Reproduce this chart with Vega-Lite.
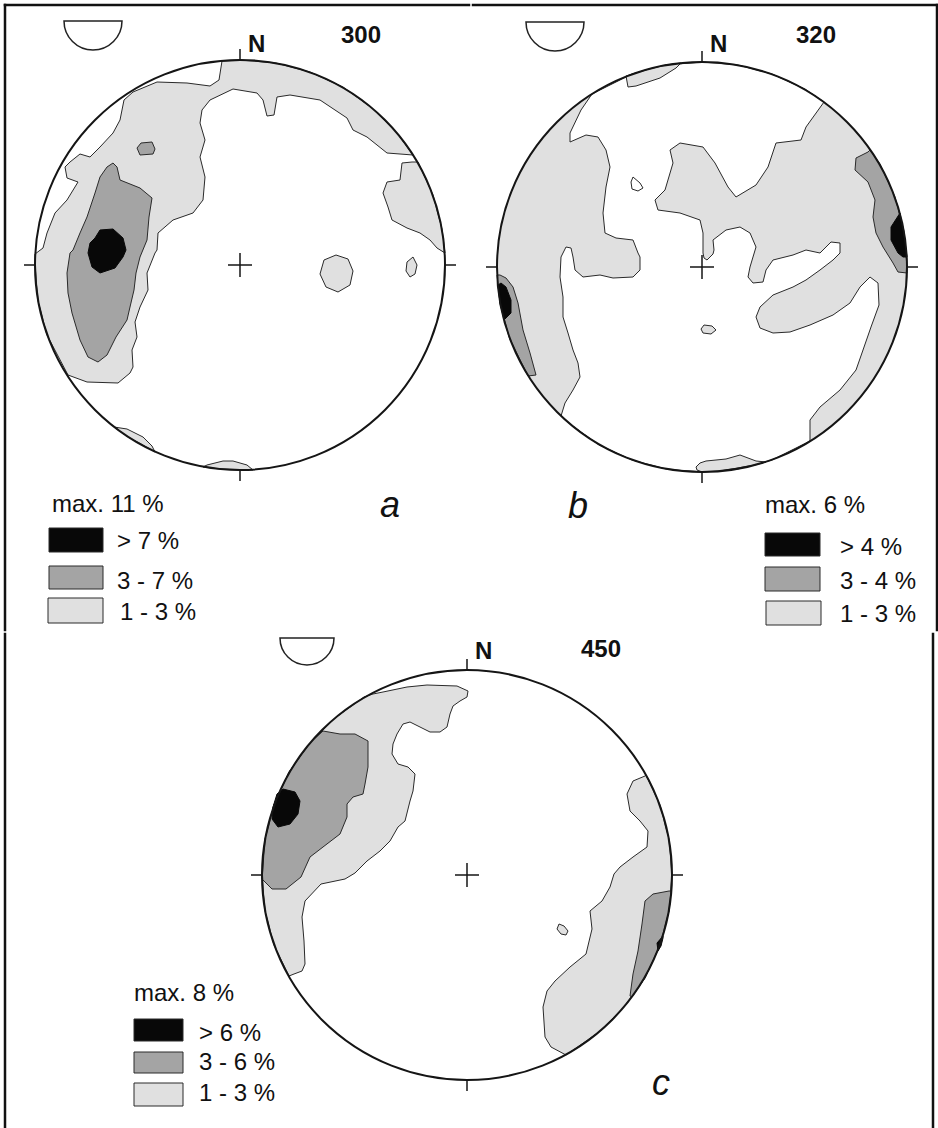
{
"$schema": "https://vega.github.io/schema/vega-lite/v6.json",
"padding": 0,
"background": "white",
"spacing": 0,
"config": {"view": {"stroke": null}, "font": "Liberation Sans", "text": {"font": "Liberation Sans"}},
"datasets": {
"poly": [
{"p":"a","g":"a1","k":"L","i":1,"x":-18,"y":204},{"p":"a","g":"a1","k":"L","i":2,"x":0,"y":205},{"p":"a","g":"a1","k":"L","i":3,"x":36,"y":202},{"p":"a","g":"a1","k":"L","i":4,"x":70,"y":193},{"p":"a","g":"a1","k":"L","i":5,"x":103,"y":178},{"p":"a","g":"a1","k":"L","i":6,"x":132,"y":157},{"p":"a","g":"a1","k":"L","i":7,"x":157,"y":132},{"p":"a","g":"a1","k":"L","i":8,"x":173,"y":110},{"p":"a","g":"a1","k":"L","i":9,"x":147,"y":112},{"p":"a","g":"a1","k":"L","i":10,"x":127,"y":128},{"p":"a","g":"a1","k":"L","i":11,"x":113,"y":135},{"p":"a","g":"a1","k":"L","i":12,"x":107,"y":147},{"p":"a","g":"a1","k":"L","i":13,"x":80,"y":165},{"p":"a","g":"a1","k":"L","i":14,"x":50,"y":170},{"p":"a","g":"a1","k":"L","i":15,"x":37,"y":168},{"p":"a","g":"a1","k":"L","i":16,"x":34,"y":150},{"p":"a","g":"a1","k":"L","i":17,"x":27,"y":149},{"p":"a","g":"a1","k":"L","i":18,"x":23,"y":165},{"p":"a","g":"a1","k":"L","i":19,"x":17,"y":172},{"p":"a","g":"a1","k":"L","i":20,"x":-7,"y":176},{"p":"a","g":"a1","k":"L","i":21,"x":-30,"y":165},{"p":"a","g":"a1","k":"L","i":22,"x":-38,"y":155},{"p":"a","g":"a1","k":"L","i":23,"x":-40,"y":142},{"p":"a","g":"a1","k":"L","i":24,"x":-35,"y":125},{"p":"a","g":"a1","k":"L","i":25,"x":-40,"y":108},{"p":"a","g":"a1","k":"L","i":26,"x":-35,"y":88},{"p":"a","g":"a1","k":"L","i":27,"x":-37,"y":65},{"p":"a","g":"a1","k":"L","i":28,"x":-47,"y":52},{"p":"a","g":"a1","k":"L","i":29,"x":-67,"y":45},{"p":"a","g":"a1","k":"L","i":30,"x":-82,"y":32},{"p":"a","g":"a1","k":"L","i":31,"x":-83,"y":15},{"p":"a","g":"a1","k":"L","i":32,"x":-85,"y":12},{"p":"a","g":"a1","k":"L","i":33,"x":-93,"y":-8},{"p":"a","g":"a1","k":"L","i":34,"x":-92,"y":-25},{"p":"a","g":"a1","k":"L","i":35,"x":-100,"y":-42},{"p":"a","g":"a1","k":"L","i":36,"x":-105,"y":-57},{"p":"a","g":"a1","k":"L","i":37,"x":-103,"y":-72},{"p":"a","g":"a1","k":"L","i":38,"x":-108,"y":-85},{"p":"a","g":"a1","k":"L","i":39,"x":-107,"y":-102},{"p":"a","g":"a1","k":"L","i":40,"x":-110,"y":-108},{"p":"a","g":"a1","k":"L","i":41,"x":-122,"y":-118},{"p":"a","g":"a1","k":"L","i":42,"x":-153,"y":-117},{"p":"a","g":"a1","k":"L","i":43,"x":-172,"y":-110},{"p":"a","g":"a1","k":"L","i":44,"x":-193,"y":-70},{"p":"a","g":"a1","k":"L","i":45,"x":-202,"y":-36},{"p":"a","g":"a1","k":"L","i":46,"x":-205,"y":0},{"p":"a","g":"a1","k":"L","i":47,"x":-205,"y":11},{"p":"a","g":"a1","k":"L","i":48,"x":-197,"y":17},{"p":"a","g":"a1","k":"L","i":49,"x":-193,"y":32},{"p":"a","g":"a1","k":"L","i":50,"x":-185,"y":52},{"p":"a","g":"a1","k":"L","i":51,"x":-173,"y":65},{"p":"a","g":"a1","k":"L","i":52,"x":-162,"y":83},{"p":"a","g":"a1","k":"L","i":53,"x":-173,"y":87},{"p":"a","g":"a1","k":"L","i":54,"x":-175,"y":98},{"p":"a","g":"a1","k":"L","i":55,"x":-170,"y":103},{"p":"a","g":"a1","k":"L","i":56,"x":-160,"y":111},{"p":"a","g":"a1","k":"L","i":57,"x":-150,"y":108},{"p":"a","g":"a1","k":"L","i":58,"x":-140,"y":118},{"p":"a","g":"a1","k":"L","i":59,"x":-127,"y":132},{"p":"a","g":"a1","k":"L","i":60,"x":-120,"y":145},{"p":"a","g":"a1","k":"L","i":61,"x":-116,"y":165},{"p":"a","g":"a1","k":"L","i":62,"x":-107,"y":173},{"p":"a","g":"a1","k":"L","i":63,"x":-83,"y":183},{"p":"a","g":"a1","k":"L","i":64,"x":-53,"y":182},{"p":"a","g":"a1","k":"L","i":65,"x":-30,"y":179},{"p":"a","g":"a1","k":"L","i":66,"x":-21,"y":185},
{"p":"a","g":"a5","k":"L","i":1,"x":96,"y":10},{"p":"a","g":"a5","k":"L","i":2,"x":108,"y":6},{"p":"a","g":"a5","k":"L","i":3,"x":113,"y":-6},{"p":"a","g":"a5","k":"L","i":4,"x":110,"y":-20},{"p":"a","g":"a5","k":"L","i":5,"x":98,"y":-27},{"p":"a","g":"a5","k":"L","i":6,"x":86,"y":-22},{"p":"a","g":"a5","k":"L","i":7,"x":80,"y":-9},{"p":"a","g":"a5","k":"L","i":8,"x":84,"y":5},
{"p":"a","g":"a6","k":"L","i":1,"x":173,"y":8},{"p":"a","g":"a6","k":"L","i":2,"x":177,"y":0},{"p":"a","g":"a6","k":"L","i":3,"x":175,"y":-9},{"p":"a","g":"a6","k":"L","i":4,"x":170,"y":-12},{"p":"a","g":"a6","k":"L","i":5,"x":166,"y":-6},{"p":"a","g":"a6","k":"L","i":6,"x":167,"y":3},
{"p":"a","g":"a7","k":"L","i":1,"x":172,"y":103},{"p":"a","g":"a7","k":"L","i":2,"x":162,"y":102},{"p":"a","g":"a7","k":"L","i":3,"x":160,"y":85},{"p":"a","g":"a7","k":"L","i":4,"x":147,"y":83},{"p":"a","g":"a7","k":"L","i":5,"x":143,"y":72},{"p":"a","g":"a7","k":"L","i":6,"x":148,"y":58},{"p":"a","g":"a7","k":"L","i":7,"x":152,"y":45},{"p":"a","g":"a7","k":"L","i":8,"x":167,"y":37},{"p":"a","g":"a7","k":"L","i":9,"x":180,"y":32},{"p":"a","g":"a7","k":"L","i":10,"x":190,"y":25},{"p":"a","g":"a7","k":"L","i":11,"x":197,"y":17},{"p":"a","g":"a7","k":"L","i":12,"x":205,"y":12},{"p":"a","g":"a7","k":"L","i":13,"x":202,"y":36},{"p":"a","g":"a7","k":"L","i":14,"x":193,"y":70},{"p":"a","g":"a7","k":"L","i":15,"x":178,"y":103},
{"p":"a","g":"a8","k":"L","i":1,"x":-126,"y":-162},{"p":"a","g":"a8","k":"L","i":2,"x":-113,"y":-164},{"p":"a","g":"a8","k":"L","i":3,"x":-97,"y":-172},{"p":"a","g":"a8","k":"L","i":4,"x":-88,"y":-181},{"p":"a","g":"a8","k":"L","i":5,"x":-85,"y":-187},{"p":"a","g":"a8","k":"L","i":6,"x":-99,"y":-179},{"p":"a","g":"a8","k":"L","i":7,"x":-112,"y":-172},
{"p":"a","g":"a9","k":"L","i":1,"x":-37,"y":-202},{"p":"a","g":"a9","k":"L","i":2,"x":-33,"y":-200},{"p":"a","g":"a9","k":"L","i":3,"x":-17,"y":-196},{"p":"a","g":"a9","k":"L","i":4,"x":-7,"y":-196},{"p":"a","g":"a9","k":"L","i":5,"x":7,"y":-200},{"p":"a","g":"a9","k":"L","i":6,"x":13,"y":-205},{"p":"a","g":"a9","k":"L","i":7,"x":0,"y":-205},{"p":"a","g":"a9","k":"L","i":8,"x":-20,"y":-204},
{"p":"a","g":"a2","k":"G","i":1,"x":-103,"y":117},{"p":"a","g":"a2","k":"G","i":2,"x":-99,"y":122},{"p":"a","g":"a2","k":"G","i":3,"x":-88,"y":123},{"p":"a","g":"a2","k":"G","i":4,"x":-85,"y":116},{"p":"a","g":"a2","k":"G","i":5,"x":-87,"y":111},{"p":"a","g":"a2","k":"G","i":6,"x":-100,"y":110},
{"p":"a","g":"a3","k":"G","i":1,"x":-127,"y":102},{"p":"a","g":"a3","k":"G","i":2,"x":-123,"y":98},{"p":"a","g":"a3","k":"G","i":3,"x":-120,"y":85},{"p":"a","g":"a3","k":"G","i":4,"x":-100,"y":77},{"p":"a","g":"a3","k":"G","i":5,"x":-88,"y":67},{"p":"a","g":"a3","k":"G","i":6,"x":-91,"y":48},{"p":"a","g":"a3","k":"G","i":7,"x":-93,"y":25},{"p":"a","g":"a3","k":"G","i":8,"x":-100,"y":8},{"p":"a","g":"a3","k":"G","i":9,"x":-104,"y":-8},{"p":"a","g":"a3","k":"G","i":10,"x":-106,"y":-25},{"p":"a","g":"a3","k":"G","i":11,"x":-110,"y":-42},{"p":"a","g":"a3","k":"G","i":12,"x":-113,"y":-55},{"p":"a","g":"a3","k":"G","i":13,"x":-124,"y":-72},{"p":"a","g":"a3","k":"G","i":14,"x":-133,"y":-90},{"p":"a","g":"a3","k":"G","i":15,"x":-142,"y":-97},{"p":"a","g":"a3","k":"G","i":16,"x":-152,"y":-92},{"p":"a","g":"a3","k":"G","i":17,"x":-160,"y":-75},{"p":"a","g":"a3","k":"G","i":18,"x":-168,"y":-48},{"p":"a","g":"a3","k":"G","i":19,"x":-172,"y":-28},{"p":"a","g":"a3","k":"G","i":20,"x":-173,"y":-8},{"p":"a","g":"a3","k":"G","i":21,"x":-170,"y":12},{"p":"a","g":"a3","k":"G","i":22,"x":-167,"y":15},{"p":"a","g":"a3","k":"G","i":23,"x":-160,"y":32},{"p":"a","g":"a3","k":"G","i":24,"x":-153,"y":48},{"p":"a","g":"a3","k":"G","i":25,"x":-145,"y":72},{"p":"a","g":"a3","k":"G","i":26,"x":-140,"y":88},{"p":"a","g":"a3","k":"G","i":27,"x":-133,"y":98},
{"p":"a","g":"a4","k":"K","i":1,"x":-140,"y":35},{"p":"a","g":"a4","k":"K","i":2,"x":-127,"y":36},{"p":"a","g":"a4","k":"K","i":3,"x":-117,"y":27},{"p":"a","g":"a4","k":"K","i":4,"x":-114,"y":15},{"p":"a","g":"a4","k":"K","i":5,"x":-117,"y":8},{"p":"a","g":"a4","k":"K","i":6,"x":-125,"y":-3},{"p":"a","g":"a4","k":"K","i":7,"x":-140,"y":-8},{"p":"a","g":"a4","k":"K","i":8,"x":-148,"y":-2},{"p":"a","g":"a4","k":"K","i":9,"x":-152,"y":12},{"p":"a","g":"a4","k":"K","i":10,"x":-150,"y":22},{"p":"a","g":"a4","k":"K","i":11,"x":-145,"y":27},

{"p":"b","g":"b1","k":"W","i":1,"x":-110,"y":173},{"p":"b","g":"b1","k":"W","i":2,"x":-70,"y":193},{"p":"b","g":"b1","k":"W","i":3,"x":-36,"y":202},{"p":"b","g":"b1","k":"W","i":4,"x":0,"y":205},{"p":"b","g":"b1","k":"W","i":5,"x":36,"y":202},{"p":"b","g":"b1","k":"W","i":6,"x":70,"y":193},{"p":"b","g":"b1","k":"W","i":7,"x":103,"y":178},{"p":"b","g":"b1","k":"W","i":8,"x":122,"y":165},{"p":"b","g":"b1","k":"W","i":9,"x":104,"y":140},{"p":"b","g":"b1","k":"W","i":10,"x":99,"y":127},{"p":"b","g":"b1","k":"W","i":11,"x":74,"y":124},{"p":"b","g":"b1","k":"W","i":12,"x":66,"y":100},{"p":"b","g":"b1","k":"W","i":13,"x":54,"y":82},{"p":"b","g":"b1","k":"W","i":14,"x":34,"y":70},{"p":"b","g":"b1","k":"W","i":15,"x":26,"y":80},{"p":"b","g":"b1","k":"W","i":16,"x":13,"y":104},{"p":"b","g":"b1","k":"W","i":17,"x":1,"y":120},{"p":"b","g":"b1","k":"W","i":18,"x":-22,"y":124},{"p":"b","g":"b1","k":"W","i":19,"x":-32,"y":117},{"p":"b","g":"b1","k":"W","i":20,"x":-29,"y":104},{"p":"b","g":"b1","k":"W","i":21,"x":-37,"y":77},{"p":"b","g":"b1","k":"W","i":22,"x":-47,"y":67},{"p":"b","g":"b1","k":"W","i":23,"x":-44,"y":57},{"p":"b","g":"b1","k":"W","i":24,"x":-22,"y":54},{"p":"b","g":"b1","k":"W","i":25,"x":-2,"y":47},{"p":"b","g":"b1","k":"W","i":26,"x":1,"y":34},{"p":"b","g":"b1","k":"W","i":27,"x":1,"y":14},{"p":"b","g":"b1","k":"W","i":28,"x":2,"y":9},{"p":"b","g":"b1","k":"W","i":29,"x":5,"y":7},{"p":"b","g":"b1","k":"W","i":30,"x":11,"y":13},{"p":"b","g":"b1","k":"W","i":31,"x":12,"y":17},{"p":"b","g":"b1","k":"W","i":32,"x":11,"y":27},{"p":"b","g":"b1","k":"W","i":33,"x":24,"y":37},{"p":"b","g":"b1","k":"W","i":34,"x":38,"y":40},{"p":"b","g":"b1","k":"W","i":35,"x":48,"y":34},{"p":"b","g":"b1","k":"W","i":36,"x":54,"y":20},{"p":"b","g":"b1","k":"W","i":37,"x":48,"y":0},{"p":"b","g":"b1","k":"W","i":38,"x":46,"y":-10},{"p":"b","g":"b1","k":"W","i":39,"x":51,"y":-16},{"p":"b","g":"b1","k":"W","i":40,"x":61,"y":-15},{"p":"b","g":"b1","k":"W","i":41,"x":64,"y":-3},{"p":"b","g":"b1","k":"W","i":42,"x":71,"y":7},{"p":"b","g":"b1","k":"W","i":43,"x":91,"y":12},{"p":"b","g":"b1","k":"W","i":44,"x":104,"y":17},{"p":"b","g":"b1","k":"W","i":45,"x":118,"y":14},{"p":"b","g":"b1","k":"W","i":46,"x":129,"y":25},{"p":"b","g":"b1","k":"W","i":47,"x":138,"y":24},{"p":"b","g":"b1","k":"W","i":48,"x":138,"y":14},{"p":"b","g":"b1","k":"W","i":49,"x":131,"y":7},{"p":"b","g":"b1","k":"W","i":50,"x":118,"y":-3},{"p":"b","g":"b1","k":"W","i":51,"x":104,"y":-13},{"p":"b","g":"b1","k":"W","i":52,"x":91,"y":-20},{"p":"b","g":"b1","k":"W","i":53,"x":71,"y":-28},{"p":"b","g":"b1","k":"W","i":54,"x":58,"y":-40},{"p":"b","g":"b1","k":"W","i":55,"x":54,"y":-50},{"p":"b","g":"b1","k":"W","i":56,"x":58,"y":-61},{"p":"b","g":"b1","k":"W","i":57,"x":71,"y":-66},{"p":"b","g":"b1","k":"W","i":58,"x":88,"y":-65},{"p":"b","g":"b1","k":"W","i":59,"x":108,"y":-58},{"p":"b","g":"b1","k":"W","i":60,"x":131,"y":-48},{"p":"b","g":"b1","k":"W","i":61,"x":148,"y":-36},{"p":"b","g":"b1","k":"W","i":62,"x":158,"y":-20},{"p":"b","g":"b1","k":"W","i":63,"x":168,"y":-10},{"p":"b","g":"b1","k":"W","i":64,"x":176,"y":-16},{"p":"b","g":"b1","k":"W","i":65,"x":177,"y":-38},{"p":"b","g":"b1","k":"W","i":66,"x":169,"y":-60},{"p":"b","g":"b1","k":"W","i":67,"x":161,"y":-83},{"p":"b","g":"b1","k":"W","i":68,"x":154,"y":-103},{"p":"b","g":"b1","k":"W","i":69,"x":138,"y":-123},{"p":"b","g":"b1","k":"W","i":70,"x":118,"y":-140},{"p":"b","g":"b1","k":"W","i":71,"x":108,"y":-153},{"p":"b","g":"b1","k":"W","i":72,"x":108,"y":-174},{"p":"b","g":"b1","k":"W","i":73,"x":70,"y":-193},{"p":"b","g":"b1","k":"W","i":74,"x":36,"y":-202},{"p":"b","g":"b1","k":"W","i":75,"x":0,"y":-205},{"p":"b","g":"b1","k":"W","i":76,"x":-36,"y":-202},{"p":"b","g":"b1","k":"W","i":77,"x":-70,"y":-193},{"p":"b","g":"b1","k":"W","i":78,"x":-103,"y":-178},{"p":"b","g":"b1","k":"W","i":79,"x":-132,"y":-157},{"p":"b","g":"b1","k":"W","i":80,"x":-141,"y":-149},{"p":"b","g":"b1","k":"W","i":81,"x":-137,"y":-136},{"p":"b","g":"b1","k":"W","i":82,"x":-129,"y":-123},{"p":"b","g":"b1","k":"W","i":83,"x":-122,"y":-110},{"p":"b","g":"b1","k":"W","i":84,"x":-124,"y":-96},{"p":"b","g":"b1","k":"W","i":85,"x":-129,"y":-83},{"p":"b","g":"b1","k":"W","i":86,"x":-134,"y":-66},{"p":"b","g":"b1","k":"W","i":87,"x":-139,"y":-50},{"p":"b","g":"b1","k":"W","i":88,"x":-139,"y":-30},{"p":"b","g":"b1","k":"W","i":89,"x":-142,"y":-10},{"p":"b","g":"b1","k":"W","i":90,"x":-141,"y":10},{"p":"b","g":"b1","k":"W","i":91,"x":-136,"y":20},{"p":"b","g":"b1","k":"W","i":92,"x":-131,"y":19},{"p":"b","g":"b1","k":"W","i":93,"x":-129,"y":10},{"p":"b","g":"b1","k":"W","i":94,"x":-127,"y":-3},{"p":"b","g":"b1","k":"W","i":95,"x":-119,"y":-10},{"p":"b","g":"b1","k":"W","i":96,"x":-102,"y":-8},{"p":"b","g":"b1","k":"W","i":97,"x":-89,"y":-11},{"p":"b","g":"b1","k":"W","i":98,"x":-69,"y":-10},{"p":"b","g":"b1","k":"W","i":99,"x":-62,"y":-3},{"p":"b","g":"b1","k":"W","i":100,"x":-62,"y":10},{"p":"b","g":"b1","k":"W","i":101,"x":-64,"y":14},{"p":"b","g":"b1","k":"W","i":102,"x":-69,"y":27},{"p":"b","g":"b1","k":"W","i":103,"x":-86,"y":29},{"p":"b","g":"b1","k":"W","i":104,"x":-97,"y":34},{"p":"b","g":"b1","k":"W","i":105,"x":-99,"y":54},{"p":"b","g":"b1","k":"W","i":106,"x":-96,"y":80},{"p":"b","g":"b1","k":"W","i":107,"x":-92,"y":100},{"p":"b","g":"b1","k":"W","i":108,"x":-96,"y":117},{"p":"b","g":"b1","k":"W","i":109,"x":-104,"y":130},{"p":"b","g":"b1","k":"W","i":110,"x":-116,"y":132},{"p":"b","g":"b1","k":"W","i":111,"x":-132,"y":125},{"p":"b","g":"b1","k":"W","i":112,"x":-132,"y":134},{"p":"b","g":"b1","k":"W","i":113,"x":-121,"y":157},
{"p":"b","g":"b2","k":"W","i":1,"x":-69,"y":90},{"p":"b","g":"b2","k":"W","i":2,"x":-62,"y":84},{"p":"b","g":"b2","k":"W","i":3,"x":-59,"y":79},{"p":"b","g":"b2","k":"W","i":4,"x":-64,"y":76},{"p":"b","g":"b2","k":"W","i":5,"x":-70,"y":78},{"p":"b","g":"b2","k":"W","i":6,"x":-71,"y":85},
{"p":"b","g":"b3","k":"L","i":1,"x":-21,"y":204},{"p":"b","g":"b3","k":"L","i":2,"x":-26,"y":199},{"p":"b","g":"b3","k":"L","i":3,"x":-42,"y":189},{"p":"b","g":"b3","k":"L","i":4,"x":-66,"y":181},{"p":"b","g":"b3","k":"L","i":5,"x":-74,"y":180},{"p":"b","g":"b3","k":"L","i":6,"x":-76,"y":191},{"p":"b","g":"b3","k":"L","i":7,"x":-53,"y":198},{"p":"b","g":"b3","k":"L","i":8,"x":-36,"y":202},
{"p":"b","g":"b4","k":"L","i":1,"x":2,"y":-58},{"p":"b","g":"b4","k":"L","i":2,"x":10,"y":-59},{"p":"b","g":"b4","k":"L","i":3,"x":14,"y":-63},{"p":"b","g":"b4","k":"L","i":4,"x":9,"y":-67},{"p":"b","g":"b4","k":"L","i":5,"x":1,"y":-66},{"p":"b","g":"b4","k":"L","i":6,"x":-1,"y":-62},
{"p":"b","g":"b5","k":"L","i":1,"x":-6,"y":-200},{"p":"b","g":"b5","k":"L","i":2,"x":-2,"y":-196},{"p":"b","g":"b5","k":"L","i":3,"x":4,"y":-194},{"p":"b","g":"b5","k":"L","i":4,"x":24,"y":-192},{"p":"b","g":"b5","k":"L","i":5,"x":38,"y":-188},{"p":"b","g":"b5","k":"L","i":6,"x":46,"y":-191},{"p":"b","g":"b5","k":"L","i":7,"x":54,"y":-194},{"p":"b","g":"b5","k":"L","i":8,"x":64,"y":-195},{"p":"b","g":"b5","k":"L","i":9,"x":53,"y":-198},{"p":"b","g":"b5","k":"L","i":10,"x":18,"y":-204},{"p":"b","g":"b5","k":"L","i":11,"x":0,"y":-205},{"p":"b","g":"b5","k":"L","i":12,"x":-5,"y":-203},
{"p":"b","g":"b6","k":"G","i":1,"x":-202,"y":-8},{"p":"b","g":"b6","k":"G","i":2,"x":-196,"y":-11},{"p":"b","g":"b6","k":"G","i":3,"x":-189,"y":-20},{"p":"b","g":"b6","k":"G","i":4,"x":-184,"y":-36},{"p":"b","g":"b6","k":"G","i":5,"x":-179,"y":-63},{"p":"b","g":"b6","k":"G","i":6,"x":-172,"y":-86},{"p":"b","g":"b6","k":"G","i":7,"x":-166,"y":-108},{"p":"b","g":"b6","k":"G","i":8,"x":-174,"y":-109},{"p":"b","g":"b6","k":"G","i":9,"x":-193,"y":-70},{"p":"b","g":"b6","k":"G","i":10,"x":-202,"y":-36},{"p":"b","g":"b6","k":"G","i":11,"x":-205,"y":-8},
{"p":"b","g":"b8","k":"G","i":1,"x":166,"y":115},{"p":"b","g":"b8","k":"G","i":2,"x":154,"y":109},{"p":"b","g":"b8","k":"G","i":3,"x":153,"y":97},{"p":"b","g":"b8","k":"G","i":4,"x":166,"y":85},{"p":"b","g":"b8","k":"G","i":5,"x":173,"y":67},{"p":"b","g":"b8","k":"G","i":6,"x":171,"y":50},{"p":"b","g":"b8","k":"G","i":7,"x":174,"y":34},{"p":"b","g":"b8","k":"G","i":8,"x":181,"y":20},{"p":"b","g":"b8","k":"G","i":9,"x":191,"y":4},{"p":"b","g":"b8","k":"G","i":10,"x":196,"y":-5},{"p":"b","g":"b8","k":"G","i":11,"x":205,"y":-6},{"p":"b","g":"b8","k":"G","i":12,"x":205,"y":0},{"p":"b","g":"b8","k":"G","i":13,"x":202,"y":36},{"p":"b","g":"b8","k":"G","i":14,"x":193,"y":70},{"p":"b","g":"b8","k":"G","i":15,"x":178,"y":103},{"p":"b","g":"b8","k":"G","i":16,"x":168,"y":117},
{"p":"b","g":"b7","k":"K","i":1,"x":-201,"y":-16},{"p":"b","g":"b7","k":"K","i":2,"x":-196,"y":-20},{"p":"b","g":"b7","k":"K","i":3,"x":-191,"y":-33},{"p":"b","g":"b7","k":"K","i":4,"x":-191,"y":-46},{"p":"b","g":"b7","k":"K","i":5,"x":-198,"y":-53},{"p":"b","g":"b7","k":"K","i":6,"x":-202,"y":-36},{"p":"b","g":"b7","k":"K","i":7,"x":-204,"y":-18},
{"p":"b","g":"b9","k":"K","i":1,"x":198,"y":54},{"p":"b","g":"b9","k":"K","i":2,"x":189,"y":40},{"p":"b","g":"b9","k":"K","i":3,"x":189,"y":27},{"p":"b","g":"b9","k":"K","i":4,"x":196,"y":14},{"p":"b","g":"b9","k":"K","i":5,"x":201,"y":10},{"p":"b","g":"b9","k":"K","i":6,"x":205,"y":10},{"p":"b","g":"b9","k":"K","i":7,"x":203,"y":25},

{"p":"c","g":"c1","k":"L","i":1,"x":-94,"y":181},{"p":"c","g":"c1","k":"L","i":2,"x":-84,"y":183},{"p":"c","g":"c1","k":"L","i":3,"x":-60,"y":188},{"p":"c","g":"c1","k":"L","i":4,"x":-40,"y":190},{"p":"c","g":"c1","k":"L","i":5,"x":-10,"y":189},{"p":"c","g":"c1","k":"L","i":6,"x":1,"y":184},{"p":"c","g":"c1","k":"L","i":7,"x":0,"y":178},{"p":"c","g":"c1","k":"L","i":8,"x":-7,"y":174},{"p":"c","g":"c1","k":"L","i":9,"x":-14,"y":169},{"p":"c","g":"c1","k":"L","i":10,"x":-17,"y":161},{"p":"c","g":"c1","k":"L","i":11,"x":-20,"y":148},{"p":"c","g":"c1","k":"L","i":12,"x":-27,"y":143},{"p":"c","g":"c1","k":"L","i":13,"x":-37,"y":143},{"p":"c","g":"c1","k":"L","i":14,"x":-47,"y":148},{"p":"c","g":"c1","k":"L","i":15,"x":-57,"y":153},{"p":"c","g":"c1","k":"L","i":16,"x":-64,"y":151},{"p":"c","g":"c1","k":"L","i":17,"x":-70,"y":141},{"p":"c","g":"c1","k":"L","i":18,"x":-74,"y":131},{"p":"c","g":"c1","k":"L","i":19,"x":-75,"y":121},{"p":"c","g":"c1","k":"L","i":20,"x":-69,"y":111},{"p":"c","g":"c1","k":"L","i":21,"x":-59,"y":108},{"p":"c","g":"c1","k":"L","i":22,"x":-52,"y":101},{"p":"c","g":"c1","k":"L","i":23,"x":-54,"y":84},{"p":"c","g":"c1","k":"L","i":24,"x":-57,"y":74},{"p":"c","g":"c1","k":"L","i":25,"x":-62,"y":54},{"p":"c","g":"c1","k":"L","i":26,"x":-69,"y":48},{"p":"c","g":"c1","k":"L","i":27,"x":-77,"y":34},{"p":"c","g":"c1","k":"L","i":28,"x":-87,"y":24},{"p":"c","g":"c1","k":"L","i":29,"x":-100,"y":14},{"p":"c","g":"c1","k":"L","i":30,"x":-112,"y":2},{"p":"c","g":"c1","k":"L","i":31,"x":-122,"y":-4},{"p":"c","g":"c1","k":"L","i":32,"x":-146,"y":-9},{"p":"c","g":"c1","k":"L","i":33,"x":-162,"y":-26},{"p":"c","g":"c1","k":"L","i":34,"x":-165,"y":-42},{"p":"c","g":"c1","k":"L","i":35,"x":-163,"y":-66},{"p":"c","g":"c1","k":"L","i":36,"x":-162,"y":-89},{"p":"c","g":"c1","k":"L","i":37,"x":-165,"y":-96},{"p":"c","g":"c1","k":"L","i":38,"x":-173,"y":-99},{"p":"c","g":"c1","k":"L","i":39,"x":-178,"y":-101},{"p":"c","g":"c1","k":"L","i":40,"x":-193,"y":-70},{"p":"c","g":"c1","k":"L","i":41,"x":-202,"y":-36},{"p":"c","g":"c1","k":"L","i":42,"x":-205,"y":0},{"p":"c","g":"c1","k":"L","i":43,"x":-202,"y":36},{"p":"c","g":"c1","k":"L","i":44,"x":-193,"y":70},{"p":"c","g":"c1","k":"L","i":45,"x":-178,"y":103},{"p":"c","g":"c1","k":"L","i":46,"x":-157,"y":132},{"p":"c","g":"c1","k":"L","i":47,"x":-132,"y":157},{"p":"c","g":"c1","k":"L","i":48,"x":-103,"y":178},
{"p":"c","g":"c4","k":"L","i":1,"x":178,"y":99},{"p":"c","g":"c4","k":"L","i":2,"x":166,"y":94},{"p":"c","g":"c4","k":"L","i":3,"x":160,"y":81},{"p":"c","g":"c4","k":"L","i":4,"x":163,"y":64},{"p":"c","g":"c4","k":"L","i":5,"x":173,"y":54},{"p":"c","g":"c4","k":"L","i":6,"x":181,"y":44},{"p":"c","g":"c4","k":"L","i":7,"x":180,"y":28},{"p":"c","g":"c4","k":"L","i":8,"x":166,"y":18},{"p":"c","g":"c4","k":"L","i":9,"x":153,"y":8},{"p":"c","g":"c4","k":"L","i":10,"x":147,"y":1},{"p":"c","g":"c4","k":"L","i":11,"x":143,"y":-12},{"p":"c","g":"c4","k":"L","i":12,"x":135,"y":-26},{"p":"c","g":"c4","k":"L","i":13,"x":123,"y":-36},{"p":"c","g":"c4","k":"L","i":14,"x":125,"y":-54},{"p":"c","g":"c4","k":"L","i":15,"x":119,"y":-79},{"p":"c","g":"c4","k":"L","i":16,"x":103,"y":-92},{"p":"c","g":"c4","k":"L","i":17,"x":88,"y":-106},{"p":"c","g":"c4","k":"L","i":18,"x":80,"y":-116},{"p":"c","g":"c4","k":"L","i":19,"x":76,"y":-132},{"p":"c","g":"c4","k":"L","i":20,"x":78,"y":-162},{"p":"c","g":"c4","k":"L","i":21,"x":84,"y":-172},{"p":"c","g":"c4","k":"L","i":22,"x":99,"y":-180},{"p":"c","g":"c4","k":"L","i":23,"x":132,"y":-157},{"p":"c","g":"c4","k":"L","i":24,"x":157,"y":-132},{"p":"c","g":"c4","k":"L","i":25,"x":178,"y":-103},{"p":"c","g":"c4","k":"L","i":26,"x":193,"y":-70},{"p":"c","g":"c4","k":"L","i":27,"x":202,"y":-36},{"p":"c","g":"c4","k":"L","i":28,"x":205,"y":0},{"p":"c","g":"c4","k":"L","i":29,"x":202,"y":36},{"p":"c","g":"c4","k":"L","i":30,"x":193,"y":70},{"p":"c","g":"c4","k":"L","i":31,"x":179,"y":100},
{"p":"c","g":"c7","k":"L","i":1,"x":92,"y":-49},{"p":"c","g":"c7","k":"L","i":2,"x":97,"y":-51},{"p":"c","g":"c7","k":"L","i":3,"x":101,"y":-56},{"p":"c","g":"c7","k":"L","i":4,"x":99,"y":-60},{"p":"c","g":"c7","k":"L","i":5,"x":94,"y":-59},{"p":"c","g":"c7","k":"L","i":6,"x":90,"y":-54},
{"p":"c","g":"c2","k":"G","i":1,"x":-144,"y":144},{"p":"c","g":"c2","k":"G","i":2,"x":-127,"y":141},{"p":"c","g":"c2","k":"G","i":3,"x":-112,"y":141},{"p":"c","g":"c2","k":"G","i":4,"x":-99,"y":134},{"p":"c","g":"c2","k":"G","i":5,"x":-99,"y":108},{"p":"c","g":"c2","k":"G","i":6,"x":-102,"y":91},{"p":"c","g":"c2","k":"G","i":7,"x":-104,"y":81},{"p":"c","g":"c2","k":"G","i":8,"x":-114,"y":78},{"p":"c","g":"c2","k":"G","i":9,"x":-120,"y":71},{"p":"c","g":"c2","k":"G","i":10,"x":-120,"y":58},{"p":"c","g":"c2","k":"G","i":11,"x":-127,"y":41},{"p":"c","g":"c2","k":"G","i":12,"x":-144,"y":28},{"p":"c","g":"c2","k":"G","i":13,"x":-157,"y":18},{"p":"c","g":"c2","k":"G","i":14,"x":-166,"y":-2},{"p":"c","g":"c2","k":"G","i":15,"x":-181,"y":-14},{"p":"c","g":"c2","k":"G","i":16,"x":-195,"y":-14},{"p":"c","g":"c2","k":"G","i":17,"x":-205,"y":-4},{"p":"c","g":"c2","k":"G","i":18,"x":-202,"y":36},{"p":"c","g":"c2","k":"G","i":19,"x":-193,"y":70},{"p":"c","g":"c2","k":"G","i":20,"x":-178,"y":103},{"p":"c","g":"c2","k":"G","i":21,"x":-157,"y":132},
{"p":"c","g":"c5","k":"G","i":1,"x":202,"y":-16},{"p":"c","g":"c5","k":"G","i":2,"x":186,"y":-19},{"p":"c","g":"c5","k":"G","i":3,"x":178,"y":-26},{"p":"c","g":"c5","k":"G","i":4,"x":175,"y":-49},{"p":"c","g":"c5","k":"G","i":5,"x":171,"y":-76},{"p":"c","g":"c5","k":"G","i":6,"x":166,"y":-99},{"p":"c","g":"c5","k":"G","i":7,"x":163,"y":-121},{"p":"c","g":"c5","k":"G","i":8,"x":165,"y":-122},{"p":"c","g":"c5","k":"G","i":9,"x":178,"y":-103},{"p":"c","g":"c5","k":"G","i":10,"x":193,"y":-70},{"p":"c","g":"c5","k":"G","i":11,"x":202,"y":-36},{"p":"c","g":"c5","k":"G","i":12,"x":204,"y":-16},
{"p":"c","g":"c3","k":"K","i":1,"x":-184,"y":86},{"p":"c","g":"c3","k":"K","i":2,"x":-172,"y":83},{"p":"c","g":"c3","k":"K","i":3,"x":-167,"y":74},{"p":"c","g":"c3","k":"K","i":4,"x":-169,"y":61},{"p":"c","g":"c3","k":"K","i":5,"x":-177,"y":51},{"p":"c","g":"c3","k":"K","i":6,"x":-189,"y":48},{"p":"c","g":"c3","k":"K","i":7,"x":-195,"y":56},{"p":"c","g":"c3","k":"K","i":8,"x":-194,"y":68},{"p":"c","g":"c3","k":"K","i":9,"x":-190,"y":81},
{"p":"c","g":"c6","k":"K","i":1,"x":196,"y":-61},{"p":"c","g":"c6","k":"K","i":2,"x":190,"y":-68},{"p":"c","g":"c6","k":"K","i":3,"x":191,"y":-76},{"p":"c","g":"c6","k":"K","i":4,"x":194,"y":-71},{"p":"c","g":"c6","k":"K","i":5,"x":196,"y":-63}
]
},
"vconcat": [
{"hconcat": [
{
"width": 469, "height": 630,
"data": {"values": [{}]},
"encoding": {
"x": {"type": "quantitative", "scale": {"domain": [-240, 229], "nice": false, "zero": false}, "axis": null},
"y": {"type": "quantitative", "scale": {"domain": [-365, 265], "nice": false, "zero": false}, "axis": null}
},
"layer": [
{"data": {"name": "poly"}, "transform": [{"filter": "datum.p=='a' && datum.k=='L'"}], "mark": {"type": "line", "interpolate": "linear-closed", "fill": "#e0e0e0", "stroke": "#2a2a2a", "strokeWidth": 1}, "encoding": {"x": {"field": "x"}, "y": {"field": "y"}, "detail": {"field": "g"}, "order": {"field": "i", "type": "quantitative"}}},
{"data": {"name": "poly"}, "transform": [{"filter": "datum.p=='a' && datum.k=='G'"}], "mark": {"type": "line", "interpolate": "linear-closed", "fill": "#a4a4a4", "stroke": "#2a2a2a", "strokeWidth": 1}, "encoding": {"x": {"field": "x"}, "y": {"field": "y"}, "detail": {"field": "g"}, "order": {"field": "i", "type": "quantitative"}}},
{"data": {"name": "poly"}, "transform": [{"filter": "datum.p=='a' && datum.k=='K'"}], "mark": {"type": "line", "interpolate": "linear-closed", "fill": "#080808", "stroke": "#080808", "strokeWidth": 1}, "encoding": {"x": {"field": "x"}, "y": {"field": "y"}, "detail": {"field": "g"}, "order": {"field": "i", "type": "quantitative"}}},
{"mark": {"type": "point", "shape": "circle", "size": 168100, "filled": false, "stroke": "#151515", "strokeWidth": 2, "opacity": 1}, "encoding": {"x": {"datum": 0}, "y": {"datum": 0}}},
{"mark": {"type": "rule", "stroke": "#151515", "strokeWidth": 1.5}, "encoding": {"x": {"datum": 0}, "y": {"datum": 205}, "y2": {"datum": 216}}},
{"mark": {"type": "rule", "stroke": "#151515", "strokeWidth": 1.5}, "encoding": {"x": {"datum": 0}, "y": {"datum": -205}, "y2": {"datum": -216}}},
{"mark": {"type": "rule", "stroke": "#151515", "strokeWidth": 1.5}, "encoding": {"x": {"datum": 205}, "x2": {"datum": 216}, "y": {"datum": 0}}},
{"mark": {"type": "rule", "stroke": "#151515", "strokeWidth": 1.5}, "encoding": {"x": {"datum": -205}, "x2": {"datum": -216}, "y": {"datum": 0}}},
{"mark": {"type": "rule", "stroke": "#151515", "strokeWidth": 1.5}, "encoding": {"x": {"datum": -12}, "x2": {"datum": 12}, "y": {"datum": 0}}},
{"mark": {"type": "rule", "stroke": "#151515", "strokeWidth": 1.5}, "encoding": {"x": {"datum": 0}, "y": {"datum": -12}, "y2": {"datum": 12}}},
{"mark": {"type": "point", "shape": "M-1,0L1,0A1,1 0 0 1 -1,0Z", "size": 3364, "filled": false, "stroke": "#222", "strokeWidth": 1.5, "opacity": 1}, "encoding": {"x": {"datum": -147}, "y": {"datum": 244}}},
{"mark": {"type": "text", "align": "left", "baseline": "alphabetic", "fontSize": 24, "fontWeight": "bold", "color": "#111"}, "encoding": {"x": {"datum": 8}, "y": {"datum": 213}, "text": {"value": "N"}}},
{"mark": {"type": "text", "align": "center", "baseline": "alphabetic", "fontSize": 24, "fontWeight": "bold", "color": "#111"}, "encoding": {"x": {"datum": 121}, "y": {"datum": 222}, "text": {"value": "300"}}},
{"mark": {"type": "text", "align": "left", "baseline": "alphabetic", "fontSize": 24, "color": "#111"}, "encoding": {"x": {"datum": -188}, "y": {"datum": -247}, "text": {"value": "max. 11 %"}}},
{"mark": {"type": "rect", "fill": "#080808", "stroke": "#2a2a2a", "strokeWidth": 1}, "encoding": {"x": {"datum": -191}, "x2": {"datum": -137}, "y": {"datum": -263}, "y2": {"datum": -287}}},
{"mark": {"type": "rect", "fill": "#a4a4a4", "stroke": "#2a2a2a", "strokeWidth": 1}, "encoding": {"x": {"datum": -191}, "x2": {"datum": -137}, "y": {"datum": -301}, "y2": {"datum": -324}}},
{"mark": {"type": "rect", "fill": "#e0e0e0", "stroke": "#2a2a2a", "strokeWidth": 1}, "encoding": {"x": {"datum": -192}, "x2": {"datum": -137}, "y": {"datum": -333}, "y2": {"datum": -358}}},
{"mark": {"type": "text", "align": "left", "baseline": "middle", "fontSize": 24, "color": "#111"}, "encoding": {"x": {"datum": -123}, "y": {"datum": -277}, "text": {"value": "> 7 %"}}},
{"mark": {"type": "text", "align": "left", "baseline": "middle", "fontSize": 24, "color": "#111"}, "encoding": {"x": {"datum": -123}, "y": {"datum": -317}, "text": {"value": "3 - 7 %"}}},
{"mark": {"type": "text", "align": "left", "baseline": "middle", "fontSize": 24, "color": "#111"}, "encoding": {"x": {"datum": -120}, "y": {"datum": -348}, "text": {"value": "1 - 3 %"}}},
{"mark": {"type": "text", "align": "left", "baseline": "alphabetic", "fontSize": 36, "fontStyle": "italic", "color": "#111"}, "encoding": {"x": {"datum": 140}, "y": {"datum": -252}, "text": {"value": "a"}}},
{"mark": {"type": "rule", "stroke": "#111", "strokeWidth": 2.5, "strokeCap": "square"}, "encoding": {"x": {"datum": -235}, "y": {"datum": 260}, "y2": {"datum": -365}}},
{"mark": {"type": "rule", "stroke": "#111", "strokeWidth": 2.5, "strokeCap": "square"}, "encoding": {"x": {"datum": -235}, "x2": {"datum": 229}, "y": {"datum": 260}}}
]
},
{
"width": 469, "height": 630,
"data": {"values": [{}]},
"encoding": {
"x": {"type": "quantitative", "scale": {"domain": [-229, 240], "nice": false, "zero": false}, "axis": null},
"y": {"type": "quantitative", "scale": {"domain": [-363, 267], "nice": false, "zero": false}, "axis": null}
},
"layer": [
{"mark": {"type": "point", "shape": "circle", "size": 168100, "filled": true, "color": "#e0e0e0", "strokeWidth": 0, "opacity": 1}, "encoding": {"x": {"datum": 0}, "y": {"datum": 0}}},
{"data": {"name": "poly"}, "transform": [{"filter": "datum.p=='b' && datum.k=='W'"}], "mark": {"type": "line", "interpolate": "linear-closed", "fill": "#ffffff", "stroke": "#2a2a2a", "strokeWidth": 1}, "encoding": {"x": {"field": "x"}, "y": {"field": "y"}, "detail": {"field": "g"}, "order": {"field": "i", "type": "quantitative"}}},
{"data": {"name": "poly"}, "transform": [{"filter": "datum.p=='b' && datum.k=='L'"}], "mark": {"type": "line", "interpolate": "linear-closed", "fill": "#e0e0e0", "stroke": "#2a2a2a", "strokeWidth": 1}, "encoding": {"x": {"field": "x"}, "y": {"field": "y"}, "detail": {"field": "g"}, "order": {"field": "i", "type": "quantitative"}}},
{"data": {"name": "poly"}, "transform": [{"filter": "datum.p=='b' && datum.k=='G'"}], "mark": {"type": "line", "interpolate": "linear-closed", "fill": "#a4a4a4", "stroke": "#2a2a2a", "strokeWidth": 1}, "encoding": {"x": {"field": "x"}, "y": {"field": "y"}, "detail": {"field": "g"}, "order": {"field": "i", "type": "quantitative"}}},
{"data": {"name": "poly"}, "transform": [{"filter": "datum.p=='b' && datum.k=='K'"}], "mark": {"type": "line", "interpolate": "linear-closed", "fill": "#080808", "stroke": "#080808", "strokeWidth": 1}, "encoding": {"x": {"field": "x"}, "y": {"field": "y"}, "detail": {"field": "g"}, "order": {"field": "i", "type": "quantitative"}}},
{"mark": {"type": "point", "shape": "circle", "size": 168100, "filled": false, "stroke": "#151515", "strokeWidth": 2, "opacity": 1}, "encoding": {"x": {"datum": 0}, "y": {"datum": 0}}},
{"mark": {"type": "rule", "stroke": "#151515", "strokeWidth": 1.5}, "encoding": {"x": {"datum": 0}, "y": {"datum": 205}, "y2": {"datum": 216}}},
{"mark": {"type": "rule", "stroke": "#151515", "strokeWidth": 1.5}, "encoding": {"x": {"datum": 0}, "y": {"datum": -205}, "y2": {"datum": -216}}},
{"mark": {"type": "rule", "stroke": "#151515", "strokeWidth": 1.5}, "encoding": {"x": {"datum": 205}, "x2": {"datum": 216}, "y": {"datum": 0}}},
{"mark": {"type": "rule", "stroke": "#151515", "strokeWidth": 1.5}, "encoding": {"x": {"datum": -205}, "x2": {"datum": -216}, "y": {"datum": 0}}},
{"mark": {"type": "rule", "stroke": "#151515", "strokeWidth": 1.5}, "encoding": {"x": {"datum": -12}, "x2": {"datum": 12}, "y": {"datum": 0}}},
{"mark": {"type": "rule", "stroke": "#151515", "strokeWidth": 1.5}, "encoding": {"x": {"datum": 0}, "y": {"datum": -12}, "y2": {"datum": 12}}},
{"mark": {"type": "point", "shape": "M-1,0L1,0A1,1 0 0 1 -1,0Z", "size": 3364, "filled": false, "stroke": "#222", "strokeWidth": 1.5, "opacity": 1}, "encoding": {"x": {"datum": -147}, "y": {"datum": 245}}},
{"mark": {"type": "text", "align": "left", "baseline": "alphabetic", "fontSize": 24, "fontWeight": "bold", "color": "#111"}, "encoding": {"x": {"datum": 8}, "y": {"datum": 215}, "text": {"value": "N"}}},
{"mark": {"type": "text", "align": "center", "baseline": "alphabetic", "fontSize": 24, "fontWeight": "bold", "color": "#111"}, "encoding": {"x": {"datum": 114}, "y": {"datum": 224}, "text": {"value": "320"}}},
{"mark": {"type": "text", "align": "left", "baseline": "alphabetic", "fontSize": 24, "color": "#111"}, "encoding": {"x": {"datum": 63}, "y": {"datum": -246}, "text": {"value": "max. 6 %"}}},
{"mark": {"type": "rect", "fill": "#080808", "stroke": "#2a2a2a", "strokeWidth": 1}, "encoding": {"x": {"datum": 63}, "x2": {"datum": 118}, "y": {"datum": -266}, "y2": {"datum": -289}}},
{"mark": {"type": "rect", "fill": "#a4a4a4", "stroke": "#2a2a2a", "strokeWidth": 1}, "encoding": {"x": {"datum": 63}, "x2": {"datum": 118}, "y": {"datum": -300}, "y2": {"datum": -324}}},
{"mark": {"type": "rect", "fill": "#e0e0e0", "stroke": "#2a2a2a", "strokeWidth": 1}, "encoding": {"x": {"datum": 64}, "x2": {"datum": 119}, "y": {"datum": -334}, "y2": {"datum": -358}}},
{"mark": {"type": "text", "align": "left", "baseline": "middle", "fontSize": 24, "color": "#111"}, "encoding": {"x": {"datum": 138}, "y": {"datum": -281}, "text": {"value": "> 4 %"}}},
{"mark": {"type": "text", "align": "left", "baseline": "middle", "fontSize": 24, "color": "#111"}, "encoding": {"x": {"datum": 138}, "y": {"datum": -315}, "text": {"value": "3 - 4 %"}}},
{"mark": {"type": "text", "align": "left", "baseline": "middle", "fontSize": 24, "color": "#111"}, "encoding": {"x": {"datum": 138}, "y": {"datum": -348}, "text": {"value": "1 - 3 %"}}},
{"mark": {"type": "text", "align": "left", "baseline": "alphabetic", "fontSize": 36, "fontStyle": "italic", "color": "#111"}, "encoding": {"x": {"datum": -134}, "y": {"datum": -251}, "text": {"value": "b"}}},
{"mark": {"type": "rule", "stroke": "#111", "strokeWidth": 2.5, "strokeCap": "square"}, "encoding": {"x": {"datum": -229}, "x2": {"datum": 235}, "y": {"datum": 262}}},
{"mark": {"type": "rule", "stroke": "#111", "strokeWidth": 2.5, "strokeCap": "square"}, "encoding": {"x": {"datum": 235}, "y": {"datum": 262}, "y2": {"datum": -363}}}
]
}
], "spacing": 0},
{
"width": 938, "height": 498,
"data": {"values": [{}]},
"encoding": {
"x": {"type": "quantitative", "scale": {"domain": [-467, 471], "nice": false, "zero": false}, "axis": null},
"y": {"type": "quantitative", "scale": {"domain": [-257, 241], "nice": false, "zero": false}, "axis": null}
},
"layer": [
{"data": {"name": "poly"}, "transform": [{"filter": "datum.p=='c' && datum.k=='L'"}], "mark": {"type": "line", "interpolate": "linear-closed", "fill": "#e0e0e0", "stroke": "#2a2a2a", "strokeWidth": 1}, "encoding": {"x": {"field": "x"}, "y": {"field": "y"}, "detail": {"field": "g"}, "order": {"field": "i", "type": "quantitative"}}},
{"data": {"name": "poly"}, "transform": [{"filter": "datum.p=='c' && datum.k=='G'"}], "mark": {"type": "line", "interpolate": "linear-closed", "fill": "#a4a4a4", "stroke": "#2a2a2a", "strokeWidth": 1}, "encoding": {"x": {"field": "x"}, "y": {"field": "y"}, "detail": {"field": "g"}, "order": {"field": "i", "type": "quantitative"}}},
{"data": {"name": "poly"}, "transform": [{"filter": "datum.p=='c' && datum.k=='K'"}], "mark": {"type": "line", "interpolate": "linear-closed", "fill": "#080808", "stroke": "#080808", "strokeWidth": 1}, "encoding": {"x": {"field": "x"}, "y": {"field": "y"}, "detail": {"field": "g"}, "order": {"field": "i", "type": "quantitative"}}},
{"mark": {"type": "point", "shape": "circle", "size": 168100, "filled": false, "stroke": "#151515", "strokeWidth": 2, "opacity": 1}, "encoding": {"x": {"datum": 0}, "y": {"datum": 0}}},
{"mark": {"type": "rule", "stroke": "#151515", "strokeWidth": 1.5}, "encoding": {"x": {"datum": 0}, "y": {"datum": 205}, "y2": {"datum": 216}}},
{"mark": {"type": "rule", "stroke": "#151515", "strokeWidth": 1.5}, "encoding": {"x": {"datum": 0}, "y": {"datum": -205}, "y2": {"datum": -216}}},
{"mark": {"type": "rule", "stroke": "#151515", "strokeWidth": 1.5}, "encoding": {"x": {"datum": 205}, "x2": {"datum": 216}, "y": {"datum": 0}}},
{"mark": {"type": "rule", "stroke": "#151515", "strokeWidth": 1.5}, "encoding": {"x": {"datum": -205}, "x2": {"datum": -216}, "y": {"datum": 0}}},
{"mark": {"type": "rule", "stroke": "#151515", "strokeWidth": 1.5}, "encoding": {"x": {"datum": -12}, "x2": {"datum": 12}, "y": {"datum": 0}}},
{"mark": {"type": "rule", "stroke": "#151515", "strokeWidth": 1.5}, "encoding": {"x": {"datum": 0}, "y": {"datum": -12}, "y2": {"datum": 12}}},
{"mark": {"type": "point", "shape": "M-1,0L1,0A1,1 0 0 1 -1,0Z", "size": 2916, "filled": false, "stroke": "#222", "strokeWidth": 1.5, "opacity": 1}, "encoding": {"x": {"datum": -160}, "y": {"datum": 237}}},
{"mark": {"type": "text", "align": "left", "baseline": "alphabetic", "fontSize": 24, "fontWeight": "bold", "color": "#111"}, "encoding": {"x": {"datum": 8}, "y": {"datum": 216}, "text": {"value": "N"}}},
{"mark": {"type": "text", "align": "center", "baseline": "alphabetic", "fontSize": 24, "fontWeight": "bold", "color": "#111"}, "encoding": {"x": {"datum": 134}, "y": {"datum": 218}, "text": {"value": "450"}}},
{"mark": {"type": "text", "align": "left", "baseline": "alphabetic", "fontSize": 24, "color": "#111"}, "encoding": {"x": {"datum": -333}, "y": {"datum": -126}, "text": {"value": "max. 8 %"}}},
{"mark": {"type": "rect", "fill": "#080808", "stroke": "#2a2a2a", "strokeWidth": 1}, "encoding": {"x": {"datum": -333}, "x2": {"datum": -284}, "y": {"datum": -144}, "y2": {"datum": -166}}},
{"mark": {"type": "rect", "fill": "#a4a4a4", "stroke": "#2a2a2a", "strokeWidth": 1}, "encoding": {"x": {"datum": -333}, "x2": {"datum": -284}, "y": {"datum": -177}, "y2": {"datum": -198}}},
{"mark": {"type": "rect", "fill": "#e0e0e0", "stroke": "#2a2a2a", "strokeWidth": 1}, "encoding": {"x": {"datum": -333}, "x2": {"datum": -284}, "y": {"datum": -208}, "y2": {"datum": -231}}},
{"mark": {"type": "text", "align": "left", "baseline": "middle", "fontSize": 24, "color": "#111"}, "encoding": {"x": {"datum": -268}, "y": {"datum": -159}, "text": {"value": "> 6 %"}}},
{"mark": {"type": "text", "align": "left", "baseline": "middle", "fontSize": 24, "color": "#111"}, "encoding": {"x": {"datum": -268}, "y": {"datum": -188}, "text": {"value": "3 - 6 %"}}},
{"mark": {"type": "text", "align": "left", "baseline": "middle", "fontSize": 24, "color": "#111"}, "encoding": {"x": {"datum": -268}, "y": {"datum": -219}, "text": {"value": "1 - 3 %"}}},
{"mark": {"type": "text", "align": "left", "baseline": "alphabetic", "fontSize": 36, "fontStyle": "italic", "color": "#111"}, "encoding": {"x": {"datum": 185}, "y": {"datum": -220}, "text": {"value": "c"}}},
{"mark": {"type": "rule", "stroke": "#111", "strokeWidth": 2.5, "strokeCap": "square"}, "encoding": {"x": {"datum": -462}, "y": {"datum": 241}, "y2": {"datum": -256}}},
{"mark": {"type": "rule", "stroke": "#111", "strokeWidth": 2.5, "strokeCap": "square"}, "encoding": {"x": {"datum": 466}, "y": {"datum": 241}, "y2": {"datum": -256}}},
{"mark": {"type": "rule", "stroke": "#111", "strokeWidth": 2.5, "strokeCap": "square"}, "encoding": {"x": {"datum": -462}, "x2": {"datum": 466}, "y": {"datum": -256}}}
]
}
]
}
